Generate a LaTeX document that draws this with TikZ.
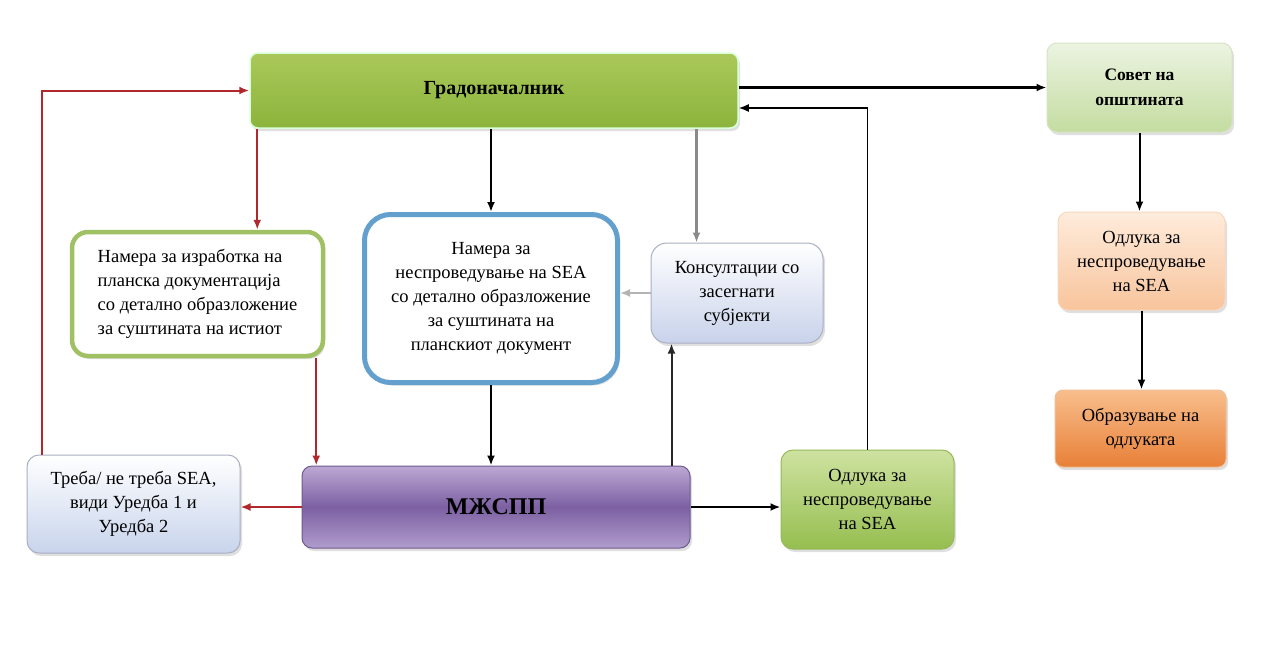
\documentclass[tikz,border=0pt]{standalone}
\usepackage{fontspec}
\setmainfont{Liberation Serif}
\usetikzlibrary{arrows.meta,shadows,calc}
\definecolor{redln}{HTML}{B0282C}
\definecolor{grayln}{HTML}{8A8A8A}
\begin{document}
\begin{tikzpicture}[x=1pt,y=-1pt,
  box/.style={rounded corners=#1, align=center, inner sep=2pt,
    drop shadow={opacity=0.25, shadow xshift=2pt, shadow yshift=-3pt}},
  box/.default=10pt,
  txt/.style={font=\fontsize{18.5}{24}\selectfont},
  redarr/.style={draw=redln, line width=2pt, -{Latex[length=10pt,width=8pt]}},
  blkarr/.style={draw=black, line width=2pt, -{Latex[length=10pt,width=8pt]}},
  grayarr/.style={draw=grayln, line width=2.4pt, -{Latex[length=10pt,width=8pt]}},
]
\useasboundingbox (0,0) rectangle (1269,657);
\fill[white] (0,0) rectangle (1269,657);

% nodes
\node[box=8pt, draw=green!15!white, line width=1.5pt, top color={rgb,255:red,170;green,200;blue,90},
  bottom color={rgb,255:red,140;green,180;blue,60},
  minimum width=488pt, minimum height=75pt, font=\bfseries\fontsize{20}{24}\selectfont]
  (mayor) at (494,90.5) {Градоначалник};

\node[box=10pt, draw={rgb,255:red,215;green,228;blue,195}, line width=1pt,
  top color={rgb,255:red,236;green,244;blue,226}, bottom color={rgb,255:red,196;green,220;blue,160},
  minimum width=185pt, minimum height=89pt, font=\bfseries\fontsize{17.5}{25}\selectfont]
  (council) at (1139.5,87.5) {Совет на\\општината};

\node[box=10pt, draw={rgb,255:red,248;green,215;blue,190}, line width=1pt,
  top color={rgb,255:red,254;green,236;blue,220}, bottom color={rgb,255:red,248;green,196;blue,156},
  minimum width=167pt, minimum height=98pt, txt]
  (decR) at (1141.5,261) {Одлука за\\неспроведување\\на SEA};

\node[box=8pt, draw={rgb,255:red,240;green,190;blue,150}, line width=1pt,
  top color={rgb,255:red,248;green,190;blue,140}, bottom color={rgb,255:red,232;green,128;blue,56},
  minimum width=171pt, minimum height=77pt, txt]
  (form) at (1140.5,428.5) {Образување на\\одлуката};

\node[box=16pt, draw={rgb,255:red,160;green,192;blue,100}, line width=4.5pt, fill=white,
  minimum width=251pt, minimum height=124pt, txt, align=left]
  (intent) at (197.5,294) {Намера за изработка на\\планска документација\\со детално образложение\\за суштината на истиот};

\node[box=26pt, draw={rgb,255:red,100;green,160;blue,205}, line width=5pt, fill=white,
  minimum width=253pt, minimum height=168pt, txt]
  (intentSEA) at (491,298.5) {Намера за\\неспроведување на SEA\\со детално образложение\\за суштината на\\планскиот документ};

\node[box=16pt, draw={rgb,255:red,170;green,175;blue,195}, line width=1pt,
  top color=white, bottom color={rgb,255:red,200;green,210;blue,234},
  minimum width=172pt, minimum height=100pt, txt]
  (consult) at (737,293) {Консултации со\\засегнати\\субјекти};

\node[box=12pt, draw={rgb,255:red,170;green,175;blue,195}, line width=1pt,
  top color=white, bottom color={rgb,255:red,200;green,212;blue,236},
  minimum width=213pt, minimum height=98pt, txt]
  (need) at (133.5,504) {Треба/ не треба SEA,\\види Уредба 1 и\\Уредба 2};

\node[box=10pt, draw={rgb,255:red,110;green,90;blue,140}, line width=1pt,
  top color={rgb,255:red,188;green,168;blue,212}, bottom color={rgb,255:red,176;green,156;blue,204},
  middle color={rgb,255:red,124;green,96;blue,162},
  minimum width=388pt, minimum height=82pt, font=\bfseries\fontsize{24}{28}\selectfont]
  (mzspp) at (496,507) {МЖСПП};

\node[box=12pt, draw={rgb,255:red,150;green,185;blue,90}, line width=1pt,
  top color={rgb,255:red,206;green,226;blue,160}, bottom color={rgb,255:red,150;green,190;blue,80},
  minimum width=173pt, minimum height=99pt, txt]
  (decB) at (867.5,499.5) {Одлука за\\неспроведување\\на SEA};

% red connectors
\draw[redarr] ([xshift=15pt]need.north west) |- (mayor.west);
\draw[redarr] ([xshift=8pt]mayor.south west) -- ([xshift=8pt]mayor.south west |- intent.north);
\draw[redarr] ([xshift=-9pt]intent.south east) -- ([xshift=-9pt]intent.south east |- mzspp.north);
\draw[redarr] (mzspp.west) -- (mzspp.west -| need.east);

% black / gray connectors
\draw[blkarr] (intentSEA.north |- mayor.south) -- (intentSEA.north);
\draw[grayarr] ([xshift=46pt]consult.north west |- mayor.south) -- ([xshift=46pt]consult.north west);
\draw[grayarr, draw={rgb,255:red,180;green,180;blue,180}] (consult.west) -- (consult.west -| intentSEA.east);
\draw[blkarr] (intentSEA.south) -- (intentSEA.south |- mzspp.north);
\draw[blkarr, draw={rgb,255:red,40;green,40;blue,40}] ([xshift=21pt]consult.south west |- mzspp.north) -- ([xshift=21pt]consult.south west);
\draw[blkarr] (mzspp.east) -- (mzspp.east -| decB.west);
\draw[blkarr, line width=1.6pt] (decB.north) |- ([yshift=-17.5pt]mayor.east);
\draw[blkarr, line width=3pt] (mayor.east |- council.west) -- (council.west);
\draw[blkarr] (council.south) -- (council.south |- decR.north);
\draw[blkarr] (decR.south) -- (decR.south |- form.north);
\end{tikzpicture}
\end{document}
